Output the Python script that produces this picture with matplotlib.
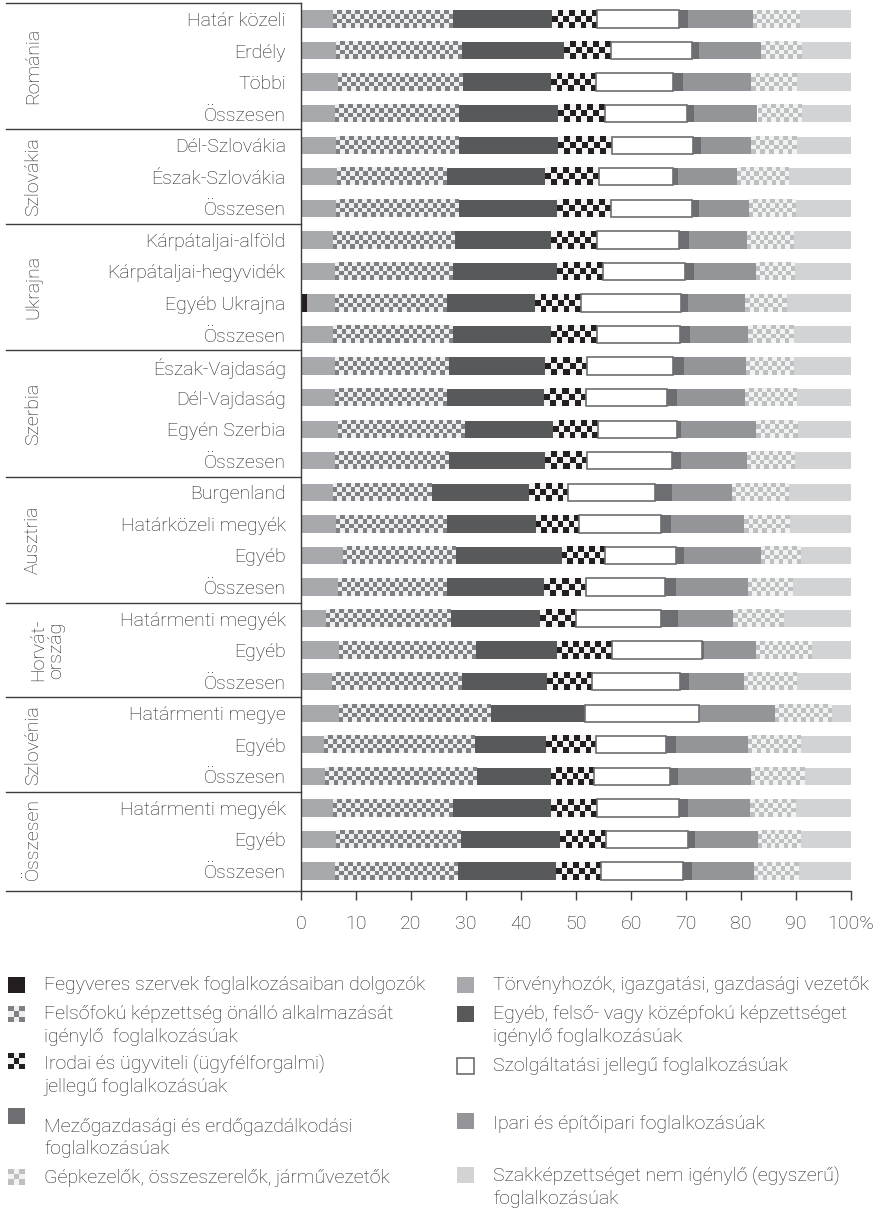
import matplotlib
matplotlib.use('Agg')
import matplotlib.pyplot as plt
import numpy as np
from matplotlib.colors import ListedColormap
from matplotlib.transforms import blended_transform_factory

plt.rcParams['font.family'] = ['Roboto', 'DejaVu Sans']
plt.rcParams['font.weight'] = 'light'

W, H = 881, 1210
TXT = '#231f20'
LINE = '#3d3d3d'
FS = 14

# --- adatok -------------------------------------------------------------
groups = ["Románia", "Szlovákia", "Ukrajna", "Szerbia", "Ausztria",
          "Horvát-\nország", "Szlovénia", "Összesen"]
group_sizes = [4, 3, 4, 4, 4, 3, 3, 3]

rows = ["Határ közeli", "Erdély", "Többi", "Összesen",
        "Dél-Szlovákia", "Észak-Szlovákia", "Összesen",
        "Kárpátaljai-alföld", "Kárpátaljai-hegyvidék", "Egyéb Ukrajna", "Összesen",
        "Észak-Vajdaság", "Dél-Vajdaság", "Egyén Szerbia", "Összesen",
        "Burgenland", "Határközeli megyék", "Egyéb", "Összesen",
        "Határmenti megyék", "Egyéb", "Összesen",
        "Határmenti megye", "Egyéb", "Összesen",
        "Határmenti megyék", "Egyéb", "Összesen"]

fegyveres = [0, 0, 0, 0, 0, 0, 0, 0, 0, 1.0, 0, 0, 0, 0, 0,
             0, 0, 0, 0, 0, 0, 0, 0, 0, 0, 0, 0, 0]
torvenyhozok = [5.8, 6.3, 6.7, 6.2, 6.3, 6.6, 6.3, 5.8, 6.1, 5.2, 5.9, 6.1, 6.1, 6.7, 6.1,
                5.9, 6.3, 7.7, 6.8, 4.6, 6.9, 5.7, 6.9, 4.2, 4.3, 5.9, 6.3, 6.1]
felsofoku = [21.8, 22.9, 22.6, 22.4, 22.3, 20.0, 22.2, 22.1, 21.3, 20.2, 21.7, 20.6, 20.2, 23.0, 20.6,
             18.0, 20.1, 20.5, 19.7, 22.6, 24.9, 23.5, 27.5, 27.3, 27.5, 21.7, 22.7, 22.3]
egyeb_felso = [18.0, 18.6, 16.1, 18.2, 18.2, 17.7, 18.1, 17.6, 19.2, 16.2, 17.9, 17.6, 17.8, 16.2, 17.6,
               17.5, 16.3, 19.2, 17.6, 16.2, 14.7, 15.5, 17.2, 13.0, 13.6, 17.9, 18.0, 18.0]
irodai = [8.2, 8.5, 8.2, 8.5, 9.7, 9.8, 9.7, 8.3, 8.3, 8.3, 8.3, 7.7, 7.7, 8.1, 7.7,
          7.1, 7.9, 7.9, 7.7, 6.6, 10.0, 8.2, 0, 9.1, 7.9, 8.3, 8.5, 8.2]
szolgaltatasi = [14.9, 14.8, 14.0, 14.8, 14.7, 13.5, 14.7, 14.9, 15.0, 18.1, 15.1, 15.6, 14.8, 14.3, 15.4,
                 15.8, 14.8, 12.8, 14.3, 15.4, 16.4, 16.0, 20.7, 12.7, 13.8, 14.9, 14.9, 14.9]
mezogazdasagi = [1.7, 1.3, 1.9, 1.3, 1.6, 1.0, 1.3, 1.9, 1.5, 1.4, 1.9, 2.0, 1.7, 0.8, 1.7,
                 3.1, 1.8, 1.5, 2.0, 3.1, 0.3, 1.7, 0, 1.8, 1.5, 1.7, 1.3, 1.6]
ipari = [11.7, 11.2, 12.4, 11.6, 9.1, 10.6, 9.2, 10.5, 11.3, 10.4, 10.5, 11.3, 12.5, 13.7, 12.0,
         10.9, 13.3, 14.0, 13.2, 10.0, 9.6, 9.9, 13.8, 13.2, 13.2, 11.3, 11.4, 11.2]
gepkezelok = [8.5, 7.4, 8.3, 7.9, 8.3, 9.4, 8.4, 8.5, 7.0, 7.6, 8.2, 8.7, 9.3, 7.6, 8.6,
              10.3, 8.2, 7.1, 8.1, 9.1, 10.1, 9.5, 10.3, 9.5, 9.8, 8.3, 7.7, 8.1]
szakkepzetlen = [9.4, 9.0, 9.8, 9.1, 9.8, 11.4, 10.1, 10.4, 10.3, 11.6, 10.5, 10.4, 9.9, 9.6, 10.3,
                 11.4, 11.3, 9.3, 10.6, 12.4, 7.1, 10.0, 3.6, 9.2, 8.4, 10.0, 9.2, 9.6]

series = [fegyveres, torvenyhozok, felsofoku, egyeb_felso, irodai,
          szolgaltatasi, mezogazdasagi, ipari, gepkezelok, szakkepzetlen]
series_names = [
    "Fegyveres szervek foglalkozásaiban dolgozók",
    "Törvényhozók, igazgatási, gazdasági vezetők",
    "Felsőfokú képzettség önálló alkalmazását\nigénylő  foglalkozásúak",
    "Egyéb, felső- vagy középfokú képzettséget\nigénylő foglalkozásúak",
    "Irodai és ügyviteli (ügyfélforgalmi)\njellegű foglalkozásúak",
    "Szolgáltatási jellegű foglalkozásúak",
    "Mezőgazdasági és erdőgazdálkodási\nfoglalkozásúak",
    "Ipari és építőipari foglalkozásúak",
    "Gépkezelők, összeszerelők, járművezetők",
    "Szakképzettséget nem igénylő (egyszerű)\nfoglalkozásúak",
]

# --- stílusok -----------------------------------------------------------
styles = [
    dict(face='#231f20'),
    dict(face='#a7a9ac'),
    dict(face='#eeeff0', dark='#7f8083', cell=0.8, rows=4),
    dict(face='#58595b'),
    dict(face='#f4f4f4', dark='#231f20', cell=1.05, rows=3),
    dict(face='white', edge='#6d6e71', lw=1.2, z=3),
    dict(face='#6d6e71'),
    dict(face='#939598'),
    dict(face='#f1f2f2', dark='#bdbfc1', cell=0.8, rows=4),
    dict(face='#d1d3d4'),
]


def draw_segments(ax, lefts, widths, ys, h, st, cell=None, nrows=None, phase=0):
    bars = ax.barh(ys, widths, left=lefts, height=h, color=st['face'],
                   edgecolor=st.get('edge', 'none'), linewidth=st.get('lw', 0),
                   zorder=st.get('z', 1), clip_on=False)
    if 'dark' in st:
        cmap = ListedColormap([st['face'], st['dark']])
        cw = cell if cell else st['cell']
        nr = nrows if nrows else st['rows']
        for b in bars:
            x0, y0, w, hh = b.get_x(), b.get_y(), b.get_width(), b.get_height()
            if w <= 0:
                continue
            nc = max(1, int(round(w / cw)))
            grid = (np.indices((nr, nc)).sum(axis=0) + phase) % 2
            ax.imshow(grid, extent=(x0, x0 + w, y0 + hh, y0), cmap=cmap, vmin=0, vmax=1,
                      interpolation='nearest', aspect='auto', zorder=2)


fig = plt.figure(figsize=(W / 100, H / 100), dpi=100)
ax_top, ax_bot = 3.2, 890.6
ax = fig.add_axes([301 / W, 1 - ax_bot / H, 550 / W, (ax_bot - ax_top) / H])

n = len(rows)
y = np.arange(n)
left = np.zeros(n)
for vals, st in zip(series, styles):
    vals = np.array(vals, dtype=float)
    draw_segments(ax, left, vals, y, 0.55, st)
    left += vals

ax.set_xlim(0, 100)
ax.set_ylim(n - 1 + 0.62, -0.5)
ax.set_xticks(np.arange(0, 101, 10))
ax.set_xticklabels([str(v) for v in range(0, 100, 10)] + ['100%'])
ax.set_yticks(y)
ax.set_yticklabels(rows)
ax.tick_params(axis='y', length=0, pad=11, labelsize=FS, labelcolor=TXT)
ax.tick_params(axis='x', length=6.5, width=1, color=LINE, pad=11, labelsize=FS, labelcolor=TXT)
for s in ['top', 'right']:
    ax.spines[s].set_visible(False)
for s in ['left', 'bottom']:
    ax.spines[s].set_color(LINE)
    ax.spines[s].set_linewidth(1)

# csoport elválasztók és címkék
tr = blended_transform_factory(ax.transAxes, ax.transData)
x_line = (6 - 301) / 550
bounds = np.concatenate([[0], np.cumsum(group_sizes)])
for b in bounds[:-1]:
    ax.plot([x_line, 0], [b - 0.5, b - 0.5], transform=tr, color=LINE, lw=1, clip_on=False)
ax.plot([x_line, 0], [0, 0], transform=ax.transAxes, color=LINE, lw=1, clip_on=False)
for g, s0, s1 in zip(groups, bounds[:-1], bounds[1:]):
    xc = (47 - 301) / 550 if '\n' in g else (33 - 301) / 550
    ax.text(xc, (s0 + s1 - 1) / 2, g, transform=tr, rotation=90, ha='center', va='center',
            fontsize=FS, color=TXT, linespacing=1.05)

# jelmagyarázat
leg_x = [(8, 44), (457, 493)]
marker_y = [[985, 1014, 1061, 1116, 1177], [985, 1014, 1066, 1121, 1175]]
text_y = [[985, 1014, 1065, 1127, 1178], [985, 1014, 1066, 1124, 1176]]
mw, mh = 17, 16
for k, (name, st) in enumerate(zip(series_names, styles)):
    col, r = k % 2, k // 2
    mx, tx = leg_x[col]
    my = marker_y[col][r]
    max_ = fig.add_axes([mx / W, 1 - (my + mh / 2) / H, mw / W, mh / H])
    max_.set_xlim(0, 1)
    max_.set_ylim(1, 0)
    max_.axis('off')
    draw_segments(max_, [0], [1], [0.5], 1, st, cell=1 / 3, nrows=3, phase=1)
    for j, line in enumerate(name.split('\n')):
        fig.text(tx / W, 1 - (text_y[col][r] + j * 22.5) / H, line, ha='left', va='center',
                 fontsize=FS, color=TXT)

fig.savefig('out.png', dpi=100)
